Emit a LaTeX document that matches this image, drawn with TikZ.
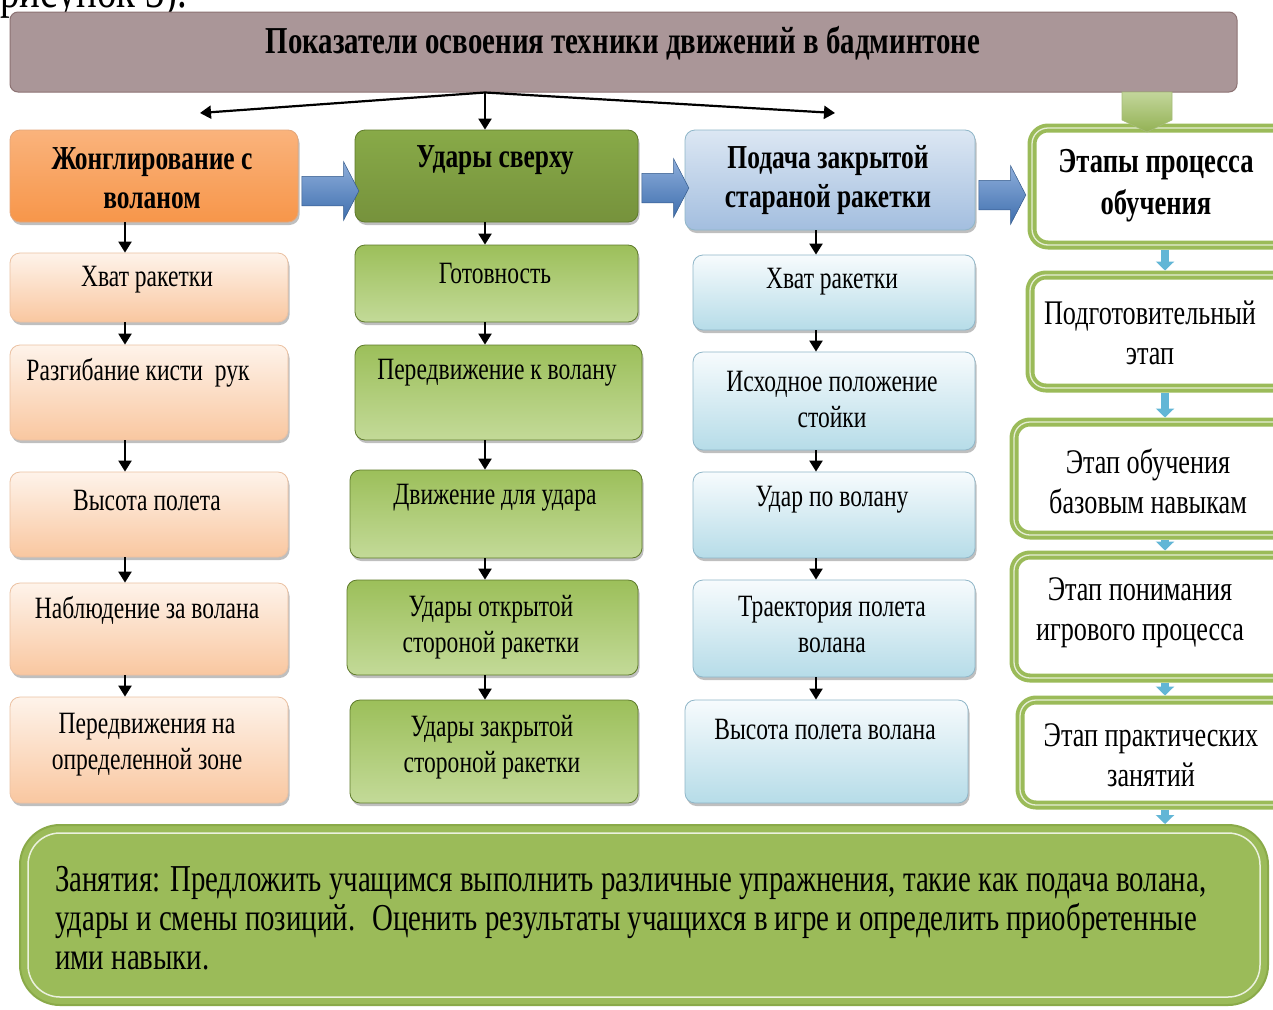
\documentclass[tikz,border=0pt]{standalone}
\usepackage{fontspec}
\setmainfont{Liberation Serif}[FakeStretch=0.76]
\usetikzlibrary{arrows.meta,shapes.arrows,shadows}
\definecolor{titlefill}{HTML}{AA9698}
\definecolor{titledraw}{HTML}{8C7273}
\definecolor{orH}{HTML}{F7964A}
\definecolor{orHtop}{HTML}{FAB37C}
\definecolor{orLtop}{HTML}{FEF3EA}
\definecolor{orLbot}{HTML}{F9C7A0}
\definecolor{orDraw}{HTML}{E3A67A}
\definecolor{grH}{HTML}{76923C}
\definecolor{grHtop}{HTML}{88AA48}
\definecolor{grLtop}{HTML}{9CBF5A}
\definecolor{grLbot}{HTML}{C3DA98}
\definecolor{grDraw}{HTML}{5E7A2A}
\definecolor{blHtop}{HTML}{DCE7F3}
\definecolor{blHbot}{HTML}{A3BEDF}
\definecolor{blLtop}{HTML}{F7FBFD}
\definecolor{blLbot}{HTML}{B6DCE8}
\definecolor{blDraw}{HTML}{8FB6C8}
\definecolor{barrowtop}{HTML}{8EAEDB}
\definecolor{barrowbot}{HTML}{3F6FAE}
\definecolor{stg}{HTML}{9BBB59}
\definecolor{stgdark}{HTML}{7F9E3F}
\definecolor{lbarrow}{HTML}{62B6D6}
\newcommand\bodyfs{\fontsize{31}{36}\selectfont}
\newcommand\hdrfs{\fontsize{33.5}{39}\selectfont\bfseries}
\newcommand\stgfs{\fontsize{34.5}{40}\selectfont}
\begin{document}
\begin{tikzpicture}[x=1pt,y=-1pt,
  wh/.style 2 args={minimum width=#1pt, minimum height=#2pt},
  base/.style={rectangle, rounded corners=10pt, inner sep=0pt, line width=0.8pt},
  shad/.style={drop shadow={shadow xshift=1.5pt, shadow yshift=-3pt, fill=black!55, opacity=0.45}},
  ohdr/.style={base, shad, draw=orDraw, top color=orHtop, bottom color=orH},
  obox/.style={base, shad, draw=orDraw!70, top color=orLtop, bottom color=orLbot},
  ghdr/.style={base, shad, draw=grDraw, top color=grHtop, bottom color=grH},
  gbox/.style={base, shad, draw=grDraw, top color=grLtop, bottom color=grLbot},
  bhdr/.style={base, shad, draw=blDraw, top color=blHtop, bottom color=blHbot},
  bbox/.style={base, shad, draw=blDraw, top color=blLtop, bottom color=blLbot},
  stagebox/.style={rectangle, rounded corners=16pt, inner sep=0pt, draw=stg, line width=9pt, fill=white,
     postaction={draw=white!75!stg, line width=1.3pt}},
  txt/.style={inner sep=0pt, align=center, font=\bodyfs},
  htxt/.style={inner sep=0pt, align=center, font=\hdrfs},
  stxt/.style={inner sep=0pt, align=center, font=\stgfs},
  arr/.style={line width=2.2pt, black, -{Triangle[width=13pt,length=11pt]}},
  larr/.style={line width=8pt, lbarrow, -{Triangle[width=18pt,length=9pt]}},
  barrow/.style={single arrow, single arrow head extend=14.5pt, single arrow tip angle=125,
     minimum width=58pt, inner xsep=0pt, inner ysep=14.5pt, top color=barrowtop, bottom color=barrowbot, draw=barrowbot!80!black, line width=0.5pt}
]
\useasboundingbox (0,0) rectangle (1273,1009);
\fill[white] (0,0) rectangle (1273,1009);

% cropped text line at the very top
\node[anchor=base west, inner sep=0pt, font=\fontsize{51}{56}\selectfont] (cut) at (0,8) {рисунок 3).};

% title
\node[rectangle, rounded corners=8pt, draw=titledraw, line width=1pt, fill=titlefill, wh={1227}{80}] (title) at (623.5,52) {};
\node[inner sep=0pt, font=\fontsize{38}{42}\selectfont\bfseries] (titletxt) at (623,43) {Показатели освоения техники движений в бадминтоне};

% column 1
\node[ohdr, wh={288}{92}] (c1h) at (154,176) {};
\node[htxt] (c1ht) at (152,178) {Жонглирование с\\воланом};
\node[obox, wh={278}{69}] (c1b1) at (149,287.5) {};
\node[txt] (c1t1) at (147,280) {Хват ракетки};
\node[obox, wh={278}{95}] (c1b2) at (149,392.5) {};
\node[txt] (c1t2) at (138,373) {Разгибание кисти~ рук};
\node[obox, wh={278}{85}] (c1b3) at (149,514.5) {};
\node[txt] (c1t3) at (147,500) {Высота полета};
\node[obox, wh={278}{92}] (c1b4) at (149,629) {};
\node[txt] (c1t4) at (147,610) {Наблюдение за волана};
\node[obox, wh={278}{106}] (c1b5) at (149,750) {};
\node[txt] (c1t5) at (147,745) {Передвижения на\\определенной зоне};

% column 2
\node[ghdr, wh={283}{92}] (c2h) at (496.5,176) {};
\node[htxt] (c2ht) at (495,160) {Удары сверху};
\node[gbox, wh={283}{77}] (c2b1) at (496.5,283.5) {};
\node[txt] (c2t1) at (495,273) {Готовность};
\node[gbox, wh={287}{95}] (c2b2) at (498.5,392.5) {};
\node[txt] (c2t2) at (497,373) {Передвижение к волану};
\node[gbox, wh={292}{88}] (c2b3) at (496,514) {};
\node[txt] (c2t3) at (495,498) {Движение для удара};
\node[gbox, wh={291}{95}] (c2b4) at (492.5,627.5) {};
\node[txt] (c2t4) at (491,627) {Удары открытой\\стороной ракетки};
\node[gbox, wh={288}{103}] (c2b5) at (494,751.5) {};
\node[txt] (c2t5) at (492,747) {Удары закрытой\\стороной ракетки};

% column 3
\node[bhdr, wh={290}{100}] (c3h) at (830,180) {};
\node[htxt] (c3ht) at (828,180) {Подача закрытой\\стараной ракетки};
\node[bbox, wh={282}{75}] (c3b1) at (834,292.5) {};
\node[txt] (c3t1) at (832,282) {Хват ракетки};
\node[bbox, wh={282}{98}] (c3b2) at (834,401) {};
\node[txt] (c3t2) at (832,399) {Исходное положение\\стойки};
\node[bbox, wh={282}{86}] (c3b3) at (834,515) {};
\node[txt] (c3t3) at (832,500) {Удар по волану};
\node[bbox, wh={282}{97}] (c3b4) at (834,628.5) {};
\node[txt] (c3t4) at (832,624) {Траектория полета\\волана};
\node[bbox, wh={283}{103}] (c3b5) at (826.5,751.5) {};
\node[txt] (c3t5) at (825,729) {Высота полета волана};

% column 4 (stages)
\node[stagebox, wh={260}{117}] (c4h) at (1162,186.5) {};
\node[stxt, font=\fontsize{35}{42}\selectfont\bfseries] (c4ht) at (1156,186) {Этапы процесса\\обучения};
\node[stagebox, wh={262}{113}] (c4b1) at (1161,331.5) {};
\node[stxt] (c4t1) at (1150,333) {Подготовительный\\этап};
\node[stagebox, wh={278}{113}] (c4b2) at (1153,478.5) {};
\node[stxt] (c4t2) at (1148,481) {Этап обучения\\базовым навыкам};
\node[stagebox, wh={278}{123}] (c4b3) at (1153,616.5) {};
\node[stxt] (c4t3) at (1140,613) {Этап понимания\\игрового процесса};
\node[stagebox, wh={272}{105}] (c4b4) at (1156,752.5) {};
\node[stxt] (c4t4) at (1151,755) {Этап практических\\занятий};

% bottom box
\node[rectangle, rounded corners=40pt, fill=stg, draw=stgdark!60!stg, line width=2pt, wh={1248}{180}] (bottom) at (644,915) {};
\draw[white!80!stg, line width=1.5pt, rounded corners=32pt] ([xshift=9pt,yshift=-9pt]bottom.north west) rectangle ([xshift=-9pt,yshift=9pt]bottom.south east);
\node[anchor=west, inner sep=0pt, align=left, font=\fontsize{38}{39}\selectfont] (bottomtxt) at (55,918)
 {Занятия: Предложить учащимся выполнить различные упражнения, такие как подача волана,\\
  удары и смены позиций.~ Оценить результаты учащихся в игре и определить приобретенные\\
  ими навыки.};

% arrow columns
\coordinate (ax1) at (125,0);
\coordinate (ax2) at (485,0);
\coordinate (ax3) at (816,0);
\coordinate (ax4) at (1165,0);

% arrows from title
\coordinate (split) at (title.south -| ax2);
\coordinate (tl) at (200,113);
\coordinate (tr) at (835,113);
\draw[arr] (split) -- (tl);
\draw[arr] (split) -- (tr);
\draw[arr] (split) -- (c2h.north -| ax2);

% green chevron from title to stages
\shade[top color=stg!60!white, bottom color=stg!95!black, draw=stgdark!70, line width=0.6pt]
  (1122,92) -- (1172,92) -- (1172,120) -- (1147,132) -- (1122,120) -- cycle;

% block arrows between headers
\node[barrow, minimum height=57pt] (a1) at (326.5,191) {};
\node[barrow, minimum height=47pt] (a2) at (661.5,188) {};
\node[barrow, minimum height=47pt] (a3) at (998.5,195) {};

% column arrows
\draw[arr] (c1h.south -| ax1) -- (c1b1.north -| ax1);
\draw[arr] (c1b1.south -| ax1) -- (c1b2.north -| ax1);
\draw[arr] (c1b2.south -| ax1) -- (c1b3.north -| ax1);
\draw[arr] (c1b3.south -| ax1) -- (c1b4.north -| ax1);
\draw[arr] (c1b4.south -| ax1) -- (c1b5.north -| ax1);

\draw[arr] (c2h.south -| ax2) -- (c2b1.north -| ax2);
\draw[arr] (c2b1.south -| ax2) -- (c2b2.north -| ax2);
\draw[arr] (c2b2.south -| ax2) -- (c2b3.north -| ax2);
\draw[arr] (c2b3.south -| ax2) -- (c2b4.north -| ax2);
\draw[arr] (c2b4.south -| ax2) -- (c2b5.north -| ax2);

\draw[arr] (c3h.south -| ax3) -- (c3b1.north -| ax3);
\draw[arr] (c3b1.south -| ax3) -- (c3b2.north -| ax3);
\draw[arr] (c3b2.south -| ax3) -- (c3b3.north -| ax3);
\draw[arr] (c3b3.south -| ax3) -- (c3b4.north -| ax3);
\draw[arr] (c3b4.south -| ax3) -- (c3b5.north -| ax3);

\draw[larr] (c4h.south -| ax4) -- (c4b1.north -| ax4);
\draw[larr] (c4b1.south -| ax4) -- (c4b2.north -| ax4);
\draw[larr] (c4b2.south -| ax4) -- (c4b3.north -| ax4);
\draw[larr] (c4b3.south -| ax4) -- (c4b4.north -| ax4);
\draw[larr] (c4b4.south -| ax4) -- (bottom.north -| ax4);
\end{tikzpicture}
\end{document}
